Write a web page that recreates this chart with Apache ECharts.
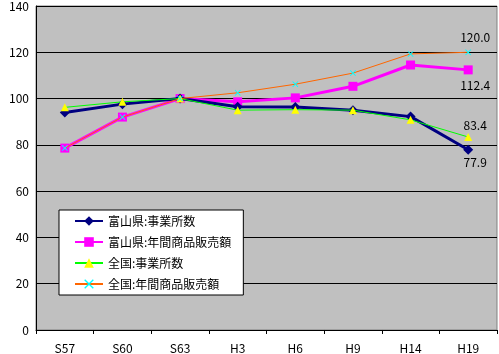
<!DOCTYPE html>
<html>
<head>
<meta charset="utf-8">
<script src="https://cdn.jsdelivr.net/npm/echarts@6/dist/echarts.min.js"></script>
<style>
html, body { margin: 0; padding: 0; background: #fff; }
#main { width: 499px; height: 354px; }
</style>
</head>
<body>
<div id="main"></div>
<script>
var categories = ['S57', 'S60', 'S63', 'H3', 'H6', 'H9', 'H14', 'H19'];
var toyamaShops = [94.0, 97.6, 100, 96.5, 96.4, 95.0, 92.2, 77.9];
var toyamaSales = [78.6, 92.0, 100, 98.6, 100.3, 105.3, 114.5, 112.4];
var japanShops = [96.2, 98.6, 100, 95.0, 95.2, 95.0, 90.8, 83.4];
var japanSales = [78.6, 92.0, 100, 102.5, 106.2, 111.0, 119.3, 120.0];
var yTicks = [0, 20, 40, 60, 80, 100, 120, 140];

var myChart = echarts.init(document.getElementById('main'));
var font = '"Noto Sans CJK JP", "DejaVu Sans", sans-serif';
var xPath = 'path://M0,1L1,0L5,4L9,0L10,1L6,5L10,9L9,10L5,6L1,10L0,9L4,5Z';

// 最後の点だけ値ラベルを出す
function lastLabel(pos, dist) {
    return {
        show: true,
        position: pos,
        distance: dist,
        offset: [7, 0],
        color: '#000',
        fontSize: 12,
        fontFamily: font,
        formatter: function (p) {
            return p.dataIndex === categories.length - 1 ? p.value.toFixed(1) : '';
        }
    };
}

var option = {
    animation: false,
    backgroundColor: '#fff',
    grid: {
        left: 36,
        right: 2,
        top: 5,
        bottom: 22,
        show: true,
        backgroundColor: '#c0c0c0',
        borderColor: '#808080',
        borderWidth: 1
    },
    legend: {
        orient: 'vertical',
        left: 59,
        top: 210,
        backgroundColor: '#fff',
        borderColor: '#000',
        borderWidth: 1,
        padding: [5, 12, 5, 15],
        itemWidth: 28,
        itemHeight: 12,
        itemGap: 9,
        textStyle: { fontSize: 12, fontFamily: font, color: '#000' },
        data: ['富山県:事業所数', '富山県:年間商品販売額', '全国:事業所数', '全国:年間商品販売額']
    },
    xAxis: {
        type: 'category',
        data: categories,
        boundaryGap: true,
        axisLine: { lineStyle: { color: '#000', width: 1 } },
        axisTick: { show: true, length: 4, lineStyle: { color: '#000' } },
        axisLabel: { color: '#000', fontSize: 12, fontFamily: font, margin: 12 }
    },
    yAxis: {
        type: 'value',
        min: yTicks[0],
        max: yTicks[yTicks.length - 1],
        interval: 20,
        axisLine: { show: true, lineStyle: { color: '#000', width: 1 } },
        axisTick: { show: false },
        splitLine: { lineStyle: { color: '#000', width: 1 } },
        axisLabel: { color: '#000', fontSize: 12, fontFamily: font, margin: 7 }
    },
    series: [
        {
            name: '富山県:事業所数',
            type: 'line',
            data: toyamaShops,
            symbol: 'diamond',
            symbolSize: 10,
            lineStyle: { color: '#000080', width: 3 },
            itemStyle: { color: '#000080' },
            label: lastLabel('bottom', 2),
            z: 4
        },
        {
            name: '富山県:年間商品販売額',
            type: 'line',
            data: toyamaSales,
            symbol: 'rect',
            symbolSize: 9,
            lineStyle: { color: '#ff00ff', width: 3 },
            itemStyle: { color: '#ff00ff' },
            label: lastLabel('bottom', 5),
            z: 3
        },
        {
            name: '全国:事業所数',
            type: 'line',
            data: japanShops,
            symbol: 'triangle',
            symbolSize: 8,
            lineStyle: { color: '#00ff00', width: 1 },
            itemStyle: { color: '#ffff00' },
            label: lastLabel('top', 2),
            z: 5
        },
        {
            name: '全国:年間商品販売額',
            type: 'line',
            data: japanSales,
            symbol: xPath,
            symbolSize: 6,
            lineStyle: { color: '#ff6600', width: 1 },
            itemStyle: { color: '#00ffff' },
            label: lastLabel('top', 6),
            z: 5
        }
    ]
};

myChart.setOption(option);
window.onresize = function () {
    myChart.resize();
};
</script>
</body>
</html>
